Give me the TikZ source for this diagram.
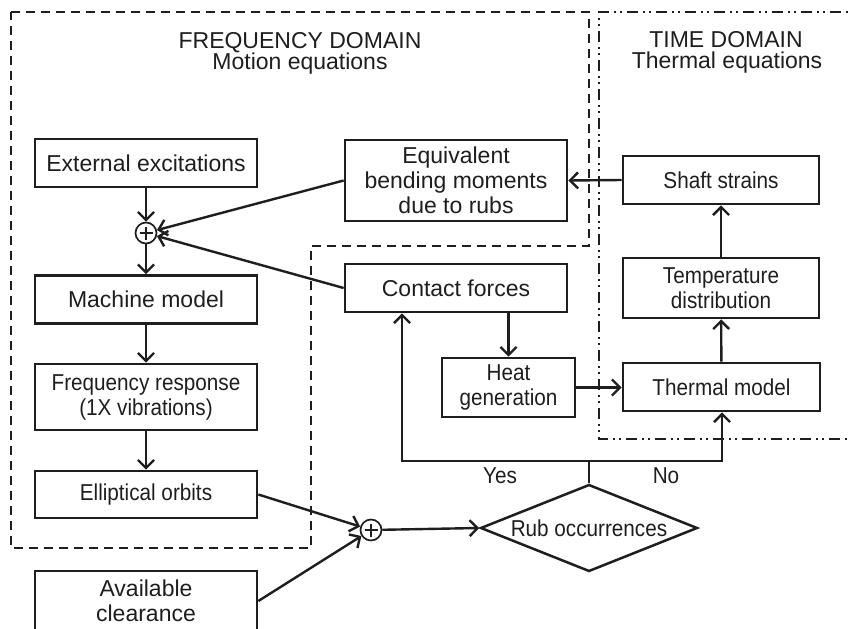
\documentclass[tikz,border=0pt]{standalone}
\usepackage{fontspec}
\setmainfont{Liberation Sans}
\newfontfamily\narrowfont[FakeStretch=0.9]{Liberation Sans}
\usetikzlibrary{arrows.meta,shapes.geometric,calc}
\definecolor{ink}{HTML}{1E1E1E}
\begin{document}
\begin{tikzpicture}[x=1pt,y=-1pt,
  txt/.style={font=\fontsize{23}{25}\selectfont, text=ink},
  narrow/.style={font=\narrowfont\fontsize{23}{25}\selectfont},
  ttl/.style={font=\fontsize{23}{25}\selectfont, text=ink, anchor=base},
  box/.style={txt, draw=ink, line width=2.7pt, minimum width=222pt, minimum height=48pt, align=center, inner sep=0pt},
  sumc/.style={circle, draw=ink, line width=1.7pt, minimum size=21pt, inner sep=0pt,
    path picture={\draw[ink, line width=2.6pt] (path picture bounding box.center) ++(-6.5pt,0pt) -- ++(13pt,0pt);
                  \draw[ink, line width=2.6pt] (path picture bounding box.center) ++(0pt,-6.5pt) -- ++(0pt,13pt);}},
  decide/.style={txt, narrow, diamond, draw=ink, line width=2.5pt, aspect=2.46, minimum width=217pt, minimum height=87pt, inner sep=0pt},
  arr/.style={draw=ink, line width=2.4pt, -{Straight Barb[length=8pt,width=16pt]}},
  freqreg/.style={draw=ink, line width=1.5pt, dash pattern=on 9pt off 6pt},
  timereg/.style={draw=ink, line width=1.5pt, dash pattern=on 11pt off 5pt on 2pt off 4pt on 2pt off 5pt}
]
\useasboundingbox (0,0) rectangle (849,629);
\clip (0,0) rectangle (849,629);

% domain regions
\draw[freqreg] (11,12) -- (589,12) -- (589,246) -- (311,246) -- (311,548) -- (11,548) -- cycle;
\draw[timereg] (870,12) -- (599,12) -- (599,439) -- (870,439);

% titles
\node[ttl] (fdA) at (300,48) {FREQUENCY DOMAIN};
\node[ttl] (fdB) at (300,69) {Motion equations};
\node[ttl] (tdA) at (726,47) {TIME DOMAIN};
\node[ttl] (tdB) at (727,68) {Thermal equations};

% blocks
\node[box] (ext) at (146,163) {External excitations};
\node[box, minimum height=81pt] (equiv) at (456,180.5) {Equivalent\\bending moments\\due to rubs};
\node[box, narrow, minimum width=196pt] (shaft) at (721,180) {Shaft strains};
\node[sumc] (s1) at (146,233) {};
\node[box] (mach) at (146,299.5) {Machine model};
\node[box] (contact) at (456,288) {Contact forces};
\node[box, narrow, minimum width=196pt, minimum height=60pt] (temp) at (721,288) {Temperature\\distribution};
\node[box, narrow, minimum width=133pt, minimum height=59pt] (heat) at (508.5,387.5) {Heat\\generation};
\node[box, narrow, minimum width=197pt] (therm) at (721.5,387) {Thermal model};
\node[box, narrow, minimum height=66pt] (freq) at (146,397) {Frequency response\\(1X vibrations)};
\node[box, narrow, minimum height=47pt] (ell) at (146,494.5) {Elliptical orbits};
\node[box, minimum height=60pt] (avail) at (146,601) {Available\\clearance};
\node[sumc] (s2) at (371,530) {};
\node[decide] (rub) at (589,528) {Rub occurrences};

\coordinate (fbL) at (402,461);
\coordinate (fbR) at (722,461);

% connectors
\draw[arr] (ext) -- (s1);
\draw[arr] (equiv.west) -- (s1);
\draw[arr] (contact.west) -- (s1);
\draw[arr] (s1) -- (mach);
\draw[arr] (mach) -- (freq);
\draw[arr] (freq) -- (ell);
\draw[arr] (ell.east) -- (s2);
\draw[arr] (avail.east) -- (s2);
\draw[arr] (s2) -- (rub.west);
\draw[arr] (shaft.west) -- (equiv.east);
\draw[arr] (temp) -- (shaft);
\draw[arr] (therm) -- (temp);
\draw[arr] (heat.east) -- (heat.east -| therm.west);
\draw[arr] (heat.north |- contact.south) -- (heat.north);
\draw[arr] (rub.north) |- (fbL) -- (fbL |- contact.south);
\draw[arr] (rub.north |- fbR) -- (fbR) -- (fbR |- therm.south);

% labels
\node[ttl, narrow] (yes) at (500,483) {Yes};
\node[ttl, narrow] (no) at (666,483) {No};
\end{tikzpicture}
\end{document}
